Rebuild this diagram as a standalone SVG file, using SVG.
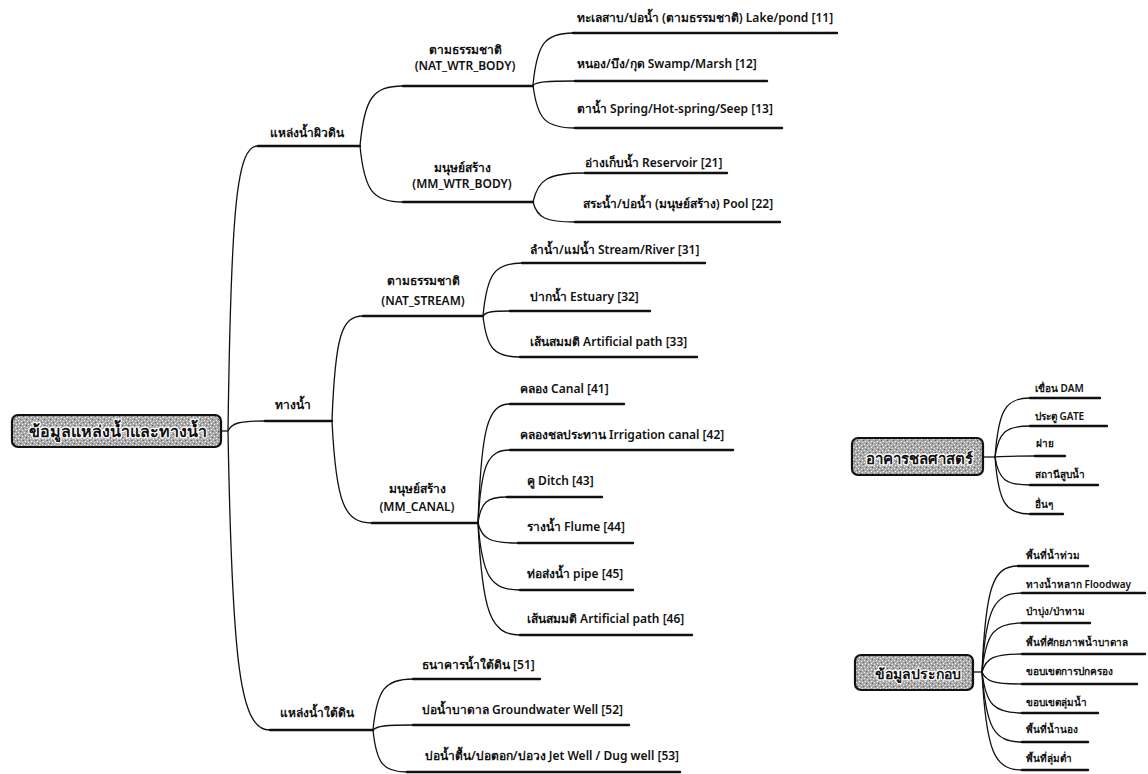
<svg xmlns="http://www.w3.org/2000/svg" width="1148" height="774" viewBox="0 0 1148 774">
<defs>
<pattern id="speck" width="6" height="6" patternUnits="userSpaceOnUse">
<rect width="6" height="6" fill="#a9a9a9"/>
<rect x="0" y="0" width="1" height="1" fill="#f2f2f2"/>
<rect x="3" y="1" width="1" height="1" fill="#e8e8e8"/>
<rect x="1" y="3" width="1" height="1" fill="#ffffff"/>
<rect x="4" y="4" width="1" height="1" fill="#eeeeee"/>
<rect x="2" y="5" width="1" height="1" fill="#5a5a5a"/>
<rect x="5" y="2" width="1" height="1" fill="#606060"/>
</pattern>
<style>
text{font-family:"Noto Sans","DejaVu Sans","Liberation Sans",sans-serif;fill:#111;}
.t{font-size:12px;font-weight:600;}
.s{font-size:10px;font-weight:600;}
.c{text-anchor:middle;}
.ul{stroke:#111;stroke-width:2.4;fill:none;stroke-linecap:round;}
.cn{stroke:#111;stroke-width:1.3;fill:none;}
.box{fill:url(#speck);stroke:#111;stroke-width:2.2;}
.bt{font-weight:700;text-anchor:middle;stroke:#fff;stroke-width:2.5;paint-order:stroke;stroke-linejoin:round;}
</style>
</defs>
<rect width="1148" height="774" fill="#fff"/>

<g id="connectors">
<path class="cn" d="M221 431 L228 431"/>
<path class="cn" d="M228 431 C231 203 237 146 258 146"/>
<path class="cn" d="M228 431 C231.7 423 239 421 265 421"/>
<path class="cn" d="M228 431 C232.2 670 240.6 730 270 730"/>
<path class="cn" d="M360 146 C364.3 98 372.9 86 403 86"/>
<path class="cn" d="M360 146 C364.3 190.8 372.9 202 403 202"/>
<path class="cn" d="M332 421 C335.1 337 341.3 316 363 316"/>
<path class="cn" d="M332 421 C336 502.6 344 523 372 523"/>
<path class="cn" d="M373 730 C377 689.2 385 679 413 679"/>
<path class="cn" d="M373 730 C377 726 385 725 413 725"/>
<path class="cn" d="M373 730 C376.4 763.6 383.2 772 407 772"/>
<path class="cn" d="M533 85 C537 43.4 545 33 573 33"/>
<path class="cn" d="M533 85 C537.2 81.8 545.6 81 575 81"/>
<path class="cn" d="M533 85 C537.2 119.4 545.6 128 575 128"/>
<path class="cn" d="M533 202 C538.2 178.8 548.6 173 585 173"/>
<path class="cn" d="M533 202 C537.2 218 545.6 222 575 222"/>
<path class="cn" d="M483 316 C486.9 273.6 494.7 263 522 263"/>
<path class="cn" d="M483 316 C485.7 312 491.1 311 510 311"/>
<path class="cn" d="M483 316 C486.7 348.8 494.1 357 520 357"/>
<path class="cn" d="M478 523 C481.2 427.8 487.6 404 510 404"/>
<path class="cn" d="M478 523 C481.2 464.6 487.6 450 510 450"/>
<path class="cn" d="M478 523 C480.9 502.2 486.7 497 507 497"/>
<path class="cn" d="M478 523 C482 539 490 543 518 543"/>
<path class="cn" d="M478 523 C482.2 576.6 490.6 590 520 590"/>
<path class="cn" d="M478 523 C482.2 612.6 490.6 635 520 635"/>
<path class="cn" d="M983 457 L995 457"/>
<path class="cn" d="M995 457 C998.5 409.8 1005.5 398 1030 398"/>
<path class="cn" d="M995 457 C998.5 432.2 1005.5 426 1030 426"/>
<path class="cn" d="M995 457 C999 456.2 1007 456 1035 456"/>
<path class="cn" d="M995 457 C998.5 479.4 1005.5 485 1030 485"/>
<path class="cn" d="M995 457 C998.5 502.6 1005.5 514 1030 514"/>
<path class="cn" d="M973 672 L982 672"/>
<path class="cn" d="M982 672 C985.6 587.2 992.8 566 1018 566"/>
<path class="cn" d="M982 672 C986 608.8 994 593 1022 593"/>
<path class="cn" d="M982 672 C986 632.8 994 623 1022 623"/>
<path class="cn" d="M982 672 C986 657.6 994 654 1022 654"/>
<path class="cn" d="M982 672 C986 681.6 994 684 1022 684"/>
<path class="cn" d="M982 672 C986 704.8 994 713 1022 713"/>
<path class="cn" d="M982 672 C986 728 994 742 1022 742"/>
<path class="cn" d="M982 672 C986 750.4 994 770 1022 770"/>
</g>

<g id="root">
<rect class="box" x="12" y="415" width="209" height="32" rx="6"/>
<text class="bt" x="118" y="437" font-size="16">ข้อมูลแหล่งน้ำและทางน้ำ</text>
</g>

<g id="n-surface">
<text class="t" x="270" y="137">แหล่งน้ำผิวดิน</text>
<path class="ul" d="M258 146 H360"/>
</g>
<g id="n-waterway">
<text class="t" x="275" y="409">ทางน้ำ</text>
<path class="ul" d="M265 421 H332"/>
</g>
<g id="n-ground">
<text class="t" x="280" y="717">แหล่งน้ำใต้ดิน</text>
<path class="ul" d="M270 730 H373"/>
</g>

<g id="n-nat-wtr">
<text class="t c" x="465" y="54">ตามธรรมชาติ</text>
<text class="t c" x="465" y="70">(NAT_WTR_BODY)</text>
<path class="ul" d="M403 86 H533"/>
</g>
<g id="n-mm-wtr">
<text class="t c" x="462" y="172">มนุษย์สร้าง</text>
<text class="t c" x="462" y="188">(MM_WTR_BODY)</text>
<path class="ul" d="M403 202 H533"/>
</g>
<g id="n-nat-stream">
<text class="t c" x="423" y="285">ตามธรรมชาติ</text>
<text class="t c" x="423" y="305">(NAT_STREAM)</text>
<path class="ul" d="M363 316 H483"/>
</g>
<g id="n-mm-canal">
<text class="t c" x="417" y="493">มนุษย์สร้าง</text>
<text class="t c" x="417" y="511">(MM_CANAL)</text>
<path class="ul" d="M372 523 H478"/>
</g>

<g id="n11"><text class="t" x="577" y="22">ทะเลสาบ/บ่อน้ำ (ตามธรรมชาติ)  Lake/pond [11]</text><path class="ul" d="M573 33 H837"/></g>
<g id="n12"><text class="t" x="577" y="68">หนอง/บึง/กุด  Swamp/Marsh [12]</text><path class="ul" d="M575 81 H767"/></g>
<g id="n13"><text class="t" x="577" y="113">ตาน้ำ  Spring/Hot-spring/Seep [13]</text><path class="ul" d="M575 128 H782"/></g>
<g id="n21"><text class="t" x="585" y="167">อ่างเก็บน้ำ  Reservoir [21]</text><path class="ul" d="M585 173 H727"/></g>
<g id="n22"><text class="t" x="583" y="208">สระน้ำ/บ่อน้ำ (มนุษย์สร้าง)  Pool [22]</text><path class="ul" d="M575 222 H780"/></g>

<g id="n31"><text class="t" x="530" y="254">ลำน้ำ/แม่น้ำ  Stream/River [31]</text><path class="ul" d="M522 263 H705"/></g>
<g id="n32"><text class="t" x="530" y="301">ปากน้ำ  Estuary [32]</text><path class="ul" d="M510 311 H650"/></g>
<g id="n33"><text class="t" x="530" y="346">เส้นสมมติ  Artificial path [33]</text><path class="ul" d="M520 357 H697"/></g>

<g id="n41"><text class="t" x="520" y="393">คลอง  Canal [41]</text><path class="ul" d="M510 404 H624"/></g>
<g id="n42"><text class="t" x="520" y="439">คลองชลประทาน  Irrigation canal [42]</text><path class="ul" d="M510 450 H733"/></g>
<g id="n43"><text class="t" x="527" y="485">คู  Ditch [43]</text><path class="ul" d="M507 497 H602"/></g>
<g id="n44"><text class="t" x="527" y="531">รางน้ำ  Flume [44]</text><path class="ul" d="M518 543 H633"/></g>
<g id="n45"><text class="t" x="527" y="578">ท่อส่งน้ำ  pipe [45]</text><path class="ul" d="M520 590 H633"/></g>
<g id="n46"><text class="t" x="527" y="623">เส้นสมมติ  Artificial path [46]</text><path class="ul" d="M520 635 H692"/></g>

<g id="n51"><text class="t" x="422" y="669">ธนาคารน้ำใต้ดิน [51]</text><path class="ul" d="M413 679 H540"/></g>
<g id="n52"><text class="t" x="422" y="714">บ่อน้ำบาดาล  Groundwater Well [52]</text><path class="ul" d="M413 725 H629"/></g>
<g id="n53"><text class="t" x="425" y="760">บ่อน้ำตื้น/บ่อตอก/บ่อวง  Jet Well / Dug well [53]</text><path class="ul" d="M407 772 H680"/></g>

<g id="hydro">
<rect class="box" x="852" y="438" width="131" height="37" rx="6"/>
<text class="bt" x="919" y="464" font-size="15">อาคารชลศาสตร์</text>
</g>
<g id="h1"><text class="s" x="1035" y="392">เขื่อน  DAM</text><path class="ul" d="M1030 398 H1100"/></g>
<g id="h2"><text class="s" x="1035" y="420">ประตู  GATE</text><path class="ul" d="M1030 426 H1107"/></g>
<g id="h3"><text class="s" x="1036" y="447">ฝาย</text><path class="ul" d="M1035 456 H1065"/></g>
<g id="h4"><text class="s" x="1035" y="478">สถานีสูบน้ำ</text><path class="ul" d="M1030 485 H1098"/></g>
<g id="h5"><text class="s" x="1035" y="508">อื่นๆ</text><path class="ul" d="M1030 514 H1063"/></g>

<g id="extra">
<rect class="box" x="855" y="655" width="118" height="35" rx="6"/>
<text class="bt" x="918" y="679" font-size="14">ข้อมูลประกอบ</text>
</g>
<g id="e1"><text class="s" x="1026" y="559">พื้นที่น้ำท่วม</text><path class="ul" d="M1018 566 H1088"/></g>
<g id="e2"><text class="s" x="1026" y="588">ทางน้ำหลาก  Floodway</text><path class="ul" d="M1022 593 H1145"/></g>
<g id="e3"><text class="s" x="1026" y="615">ป่าบุ่ง/ป่าทาม</text><path class="ul" d="M1022 623 H1090"/></g>
<g id="e4"><text class="s" x="1026" y="646">พื้นที่ศักยภาพน้ำบาดาล</text><path class="ul" d="M1022 654 H1145"/></g>
<g id="e5"><text class="s" x="1026" y="675">ขอบเขตการปกครอง</text><path class="ul" d="M1022 684 H1137"/></g>
<g id="e6"><text class="s" x="1026" y="706">ขอบเขตลุ่มน้ำ</text><path class="ul" d="M1022 713 H1098"/></g>
<g id="e7"><text class="s" x="1026" y="733">พื้นที่น้ำนอง</text><path class="ul" d="M1022 742 H1088"/></g>
<g id="e8"><text class="s" x="1026" y="762">พื้นที่ลุ่มต่ำ</text><path class="ul" d="M1022 770 H1088"/></g>
</svg>
